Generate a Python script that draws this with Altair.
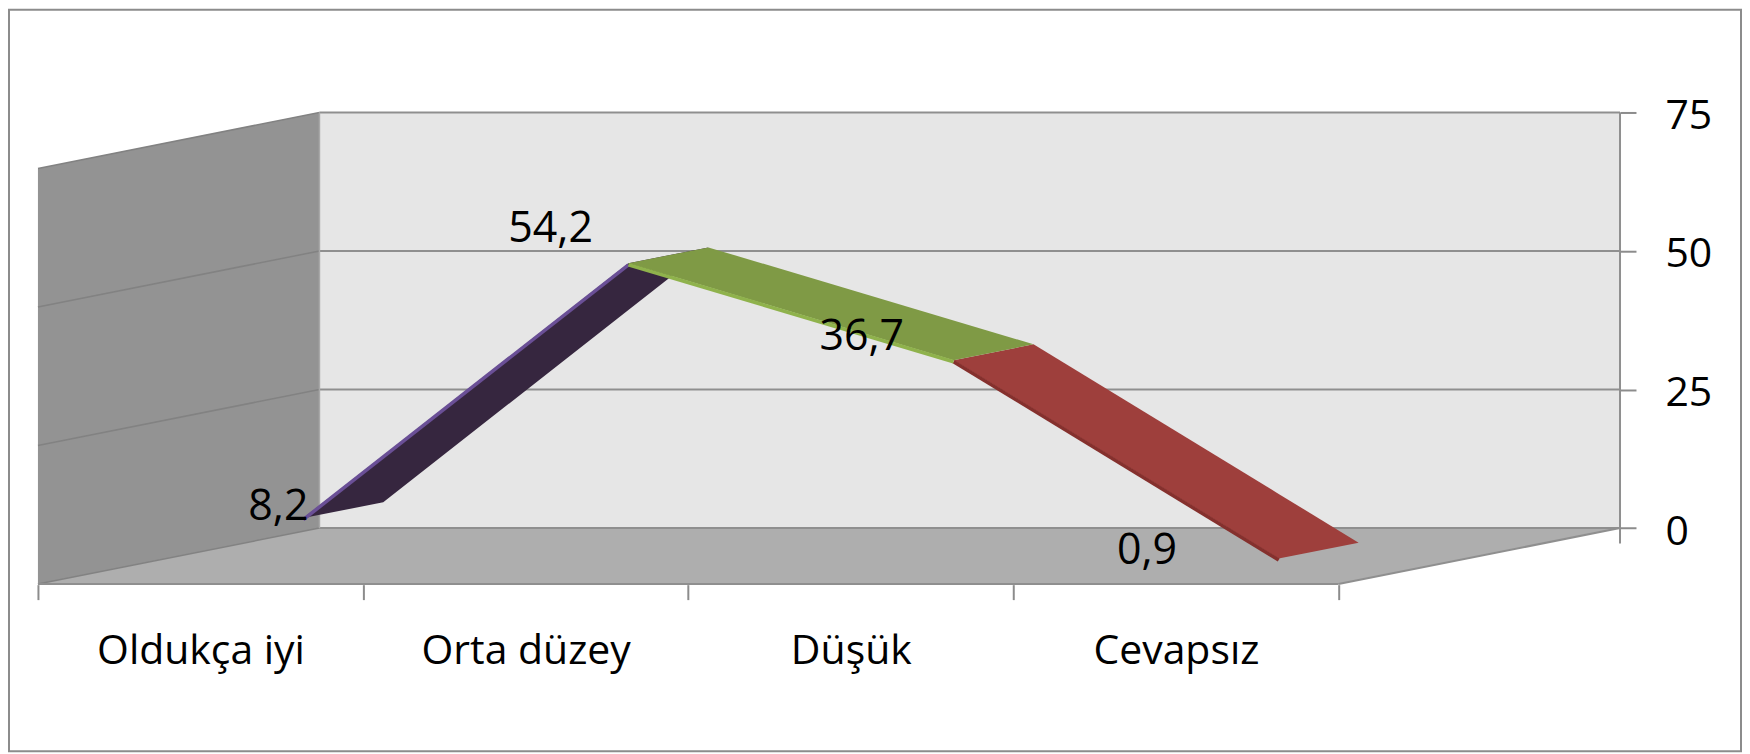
import altair as alt
import pandas as pd

categories = ["Oldukça iyi", "Orta düzey", "Düşük", "Cevapsız"]
values = [8.2, 54.2, 36.7, 0.9]
labels = ["8,2", "54,2", "36,7", "0,9"]
y_ticks = [0, 25, 50, 75]
ribbon_fill = ["#36263f", "#7f9a45", "#9e3f3c"]
ribbon_edge = ["#6a4f96", "#8fb24c", "#85302d"]

# page-pixel layout of the plot area and of the 3D box
LEFT, TOP, RIGHT, BOTTOM = 9, 9, 1744, 752
BOX_X, CAT_W = 38.0, 325.7           # front-left corner, width of one category
ZERO_Y, UNIT_Y = 528.3, 5.55         # back-wall zero line, pixels per value unit
SHEAR_X = 282 / CAT_W                # category units moved from front to back
SHEAR_Y = 56 / UNIT_Y                # value units dropped from back to front
D_FRONT, D_BACK = 0.365, 0.649       # depth of the ribbon's two edges
EDGE_DROP = 1.5 / UNIT_Y             # the ribbon's thin front strip hangs just below it
VMAX = y_ticks[-1]
N = len(categories)

x_scale = alt.Scale(domain=[(LEFT - BOX_X) / CAT_W, (RIGHT - BOX_X) / CAT_W], nice=False, zero=False)
y_scale = alt.Scale(domain=[(ZERO_Y - BOTTOM) / UNIT_Y, (ZERO_Y - TOP) / UNIT_Y], nice=False, zero=False)
band_scale = alt.Scale(domain=categories, range=[BOX_X - LEFT, BOX_X + N * CAT_W - LEFT],
                       paddingInner=0, paddingOuter=0)
y_axis = alt.Axis(orient="right", offset=-(RIGHT - BOX_X - N * CAT_W - 282), values=y_ticks, domain=False,
                  title=None, grid=False, tickColor="#8c8c8c", tickWidth=2, tickSize=16,
                  labelFont="Open Sans", labelFontSize=41, labelColor="black", labelOffset=4,
                  labelPadding=29, labelAlign="left", labelBaseline="middle")


def proj(cat, value, depth):
    """Oblique projection: depth 0 is the front plane, 1 the back wall."""
    return cat + SHEAR_X * depth, value - SHEAR_Y * (1 - depth)


def polygon_rows(points):
    xs = sorted({p[0] for p in points})
    rows = []
    edges = list(zip(points, points[1:] + points[:1]))
    for x in xs:
        hits = []
        for (x1, y1), (x2, y2) in edges:
            if min(x1, x2) <= x <= max(x1, x2):
                if x1 == x2:
                    hits += [y1, y2]
                else:
                    hits.append(y1 + (y2 - y1) * (x - x1) / (x2 - x1))
        rows.append({"x": x, "y": max(hits), "y2": min(hits)})
    return pd.DataFrame(rows)


def polygon(points, color):
    return alt.Chart(polygon_rows(points)).mark_area(color=color, interpolate="linear").encode(
        x=alt.X("x:Q", scale=x_scale, axis=None),
        y=alt.Y("y:Q", scale=y_scale, axis=y_axis),
        y2="y2:Q",
    )


def segment(p, q, color, width):
    df = pd.DataFrame({"x": [p[0], q[0]], "y": [p[1], q[1]]})
    return alt.Chart(df).mark_line(color=color, strokeWidth=width).encode(
        x=alt.X("x:Q", scale=x_scale, axis=None),
        y=alt.Y("y:Q", scale=y_scale, axis=y_axis),
    )


layers = []

# category axis on the front floor edge
front = pd.DataFrame({"cat": categories, "v": values, "lab": labels})
layers.append(
    alt.Chart(front).mark_point(opacity=0).encode(
        x=alt.X("cat:N", scale=band_scale, sort=categories, title=None,
                axis=alt.Axis(orient="bottom", offset=-(BOTTOM - 585), tickBand="extent", domain=False,
                              grid=False, tickColor="#8c8c8c", tickWidth=2, tickSize=15, labelAngle=0,
                              labelFont="Open Sans", labelFontSize=41, labelColor="black",
                              labelLimit=400, labelPadding=32, labelBaseline="top")),
        y=alt.Y("v:Q", scale=y_scale, axis=y_axis),
    )
)

# walls and floor
c0, c1 = 0, N
layers.append(polygon([proj(c0, 0, 1), proj(c1, 0, 1), proj(c1, VMAX, 1), proj(c0, VMAX, 1)], "#e6e6e6"))
layers.append(polygon([proj(c0, 0, 0), proj(c0, 0, 1), proj(c0, VMAX, 1), proj(c0, VMAX, 0)], "#939393"))
layers.append(polygon([proj(c0, 0, 0), proj(c1, 0, 0), proj(c1, 0, 1), proj(c0, 0, 1)], "#aeaeae"))

# gridlines on both walls
for t in y_ticks:
    layers.append(segment(proj(c0, t, 1), proj(c1, t, 1), "#8f8f8f", 2))
    layers.append(segment(proj(c0, t, 0), proj(c0, t, 1), "#828282", 1.5))
layers.append(segment(proj(c1, -2.8, 1), proj(c1, VMAX, 1), "#8f8f8f", 2))
layers.append(segment(proj(c0, 0, 1), proj(c0, VMAX, 1), "#a8a8a8", 1.5))
layers.append(segment(proj(c0, 0, 0), proj(c1, 0, 0), "#8f8f8f", 2))
layers.append(segment(proj(c1, 0, 0), proj(c1, 0, 1), "#8f8f8f", 2))

# ribbons of the 3D line
for i in [0, 2, 1]:
    a, b = i + 0.5, i + 1.5
    va, vb = values[i], values[i + 1]
    f1, f2 = proj(a, va, D_FRONT), proj(b, vb, D_FRONT)
    b1, b2 = proj(a, va, D_BACK), proj(b, vb, D_BACK)
    layers.append(polygon([f1, f2, b2, b1], ribbon_fill[i]))
    layers.append(segment((f1[0], f1[1] - EDGE_DROP), (f2[0], f2[1] - EDGE_DROP), ribbon_edge[i], 3.5))

# data labels: placed off the data point in its category band
label_offsets = [(78, -32), (25, -55), (11, -44), (-29, -28)]
for i, (dx, dy) in enumerate(label_offsets):
    row = pd.DataFrame({"cat": [categories[i]], "v": [values[i] - SHEAR_Y], "lab": [labels[i]]})
    layers.append(
        alt.Chart(row).mark_text(font="Open Sans", fontSize=43, color="black", dx=dx, dy=dy,
                                 align="center", baseline="middle").encode(
            x=alt.X("cat:N", scale=band_scale, sort=categories, axis=None),
            y=alt.Y("v:Q", scale=y_scale, axis=y_axis),
            text="lab:N",
        )
    )

chart = (
    alt.layer(*layers)
    .resolve_scale(x="independent")
    .properties(width=RIGHT - LEFT, height=BOTTOM - TOP, padding=1,
                autosize=alt.AutoSizeParams(type="none"), background="white")
    .configure_view(stroke="#8c8c8c", strokeWidth=2)
)

chart.save("out.html", embed_options={"renderer": "svg", "actions": False})
